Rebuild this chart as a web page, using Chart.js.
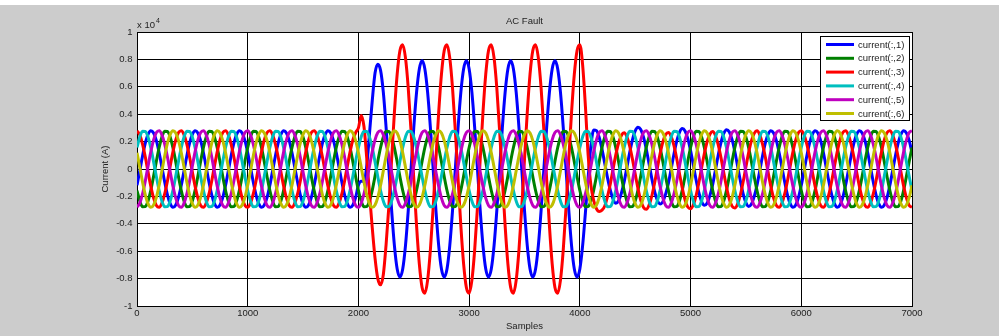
<!DOCTYPE html>
<html lang="en">
<head>
    <meta charset="UTF-8">
    <script src="https://cdnjs.cloudflare.com/ajax/libs/Chart.js/4.4.1/chart.umd.min.js"></script>
    <style>
        body {
            margin: 0;
            background: #cccccc;
        }

        canvas {
            display: block;
        }
    </style>
    <title>AC Fault</title>
</head>
<body>
    <canvas id="faultChart" width="999" height="336"></canvas>

    <script>
        const TITLE = 'AC Fault';
        const SERIES_NAMES = ['current(:,1)', 'current(:,2)', 'current(:,3)', 'current(:,4)', 'current(:,5)', 'current(:,6)'];
        const SERIES_COLORS = ['#0000ff', '#008000', '#ff0000', '#00bfbf', '#bf00bf', '#bfbf00'];

        // sample index, one row per 400-sample cycle
        const SAMPLES = [
            0, 25, 50, 75, 100, 125, 150, 175, 200, 225, 250, 275, 300, 325, 350, 375,
            400, 425, 450, 475, 500, 525, 550, 575, 600, 625, 650, 675, 700, 725, 750, 775,
            800, 825, 850, 875, 900, 925, 950, 975, 1000, 1025, 1050, 1075, 1100, 1125, 1150, 1175,
            1200, 1225, 1250, 1275, 1300, 1325, 1350, 1375, 1400, 1425, 1450, 1475, 1500, 1525, 1550, 1575,
            1600, 1625, 1650, 1675, 1700, 1725, 1750, 1775, 1800, 1825, 1850, 1875, 1900, 1925, 1950, 1975,
            2000, 2025, 2050, 2075, 2100, 2125, 2150, 2175, 2200, 2225, 2250, 2275, 2300, 2325, 2350, 2375,
            2400, 2425, 2450, 2475, 2500, 2525, 2550, 2575, 2600, 2625, 2650, 2675, 2700, 2725, 2750, 2775,
            2800, 2825, 2850, 2875, 2900, 2925, 2950, 2975, 3000, 3025, 3050, 3075, 3100, 3125, 3150, 3175,
            3200, 3225, 3250, 3275, 3300, 3325, 3350, 3375, 3400, 3425, 3450, 3475, 3500, 3525, 3550, 3575,
            3600, 3625, 3650, 3675, 3700, 3725, 3750, 3775, 3800, 3825, 3850, 3875, 3900, 3925, 3950, 3975,
            4000, 4025, 4050, 4075, 4100, 4125, 4150, 4175, 4200, 4225, 4250, 4275, 4300, 4325, 4350, 4375,
            4400, 4425, 4450, 4475, 4500, 4525, 4550, 4575, 4600, 4625, 4650, 4675, 4700, 4725, 4750, 4775,
            4800, 4825, 4850, 4875, 4900, 4925, 4950, 4975, 5000, 5025, 5050, 5075, 5100, 5125, 5150, 5175,
            5200, 5225, 5250, 5275, 5300, 5325, 5350, 5375, 5400, 5425, 5450, 5475, 5500, 5525, 5550, 5575,
            5600, 5625, 5650, 5675, 5700, 5725, 5750, 5775, 5800, 5825, 5850, 5875, 5900, 5925, 5950, 5975,
            6000, 6025, 6050, 6075, 6100, 6125, 6150, 6175, 6200, 6225, 6250, 6275, 6300, 6325, 6350, 6375,
            6400, 6425, 6450, 6475, 6500, 6525, 6550, 6575, 6600, 6625, 6650, 6675, 6700, 6725, 6750, 6775,
            6800, 6825, 6850, 6875, 6900, 6925, 6950, 6975, 7000
        ];

        const CURRENT_1 = [
            -1190, -130, 950, 1880, 2530, 2800, 2630, 2070, 1190, 130, -950, -1880, -2530, -2800, -2630, -2070,
            -1190, -130, 950, 1880, 2530, 2800, 2630, 2070, 1190, 130, -950, -1880, -2530, -2800, -2630, -2070,
            -1190, -130, 950, 1880, 2530, 2800, 2630, 2070, 1190, 130, -950, -1880, -2530, -2800, -2630, -2070,
            -1190, -130, 950, 1880, 2530, 2800, 2630, 2070, 1190, 130, -950, -1880, -2530, -2800, -2630, -2070,
            -1190, -130, 950, 1880, 2530, 2800, 2630, 2070, 1190, 130, -950, -1880, -2530, -2800, -2630, -2070,
            -1190, -900, -900, 200, 2600, 5000, 7000, 7650, 7200, 5600, 3020, 0, -3020, -5590, -7300, -7900,
            -7300, -5590, -3020, 0, 3020, 5590, 7300, 7900, 7300, 5590, 3020, 0, -3020, -5590, -7300, -7900,
            -7300, -5590, -3020, 0, 3020, 5590, 7300, 7900, 7300, 5590, 3020, 0, -3020, -5590, -7300, -7900,
            -7300, -5590, -3020, 0, 3020, 5590, 7300, 7900, 7300, 5590, 3020, 0, -3020, -5590, -7300, -7900,
            -7300, -5590, -3020, 0, 3020, 5590, 7300, 7900, 7300, 5590, 3020, 0, -3020, -5590, -7300, -7900,
            -7300, -5600, -3200, -600, 1700, 2850, 2800, 2300, 1450, 400, -650, -1550, -2200, -2500, -2320, -1770,
            -940, 120, 1200, 2130, 2780, 3050, 2880, 2320, 1440, 380, -700, -1630, -2280, -2550, -2380, -1820,
            -1040, 20, 1100, 2030, 2680, 2950, 2780, 2220, 1340, 280, -800, -1730, -2380, -2650, -2480, -1920,
            -1120, -60, 1020, 1950, 2600, 2870, 2700, 2140, 1260, 200, -880, -1810, -2460, -2730, -2560, -2000,
            -1190, -130, 950, 1880, 2530, 2800, 2630, 2070, 1190, 130, -950, -1880, -2530, -2800, -2630, -2070,
            -1190, -130, 950, 1880, 2530, 2800, 2630, 2070, 1190, 130, -950, -1880, -2530, -2800, -2630, -2070,
            -1190, -130, 950, 1880, 2530, 2800, 2630, 2070, 1190, 130, -950, -1880, -2530, -2800, -2630, -2070,
            -1190, -130, 950, 1880, 2530, 2800, 2630, 2070, 1190
        ];

        const CURRENT_2 = [
            -1570, -2340, -2750, -2740, -2320, -1540, -520, 570, 1570, 2340, 2750, 2740, 2320, 1540, 520, -570,
            -1570, -2340, -2750, -2740, -2320, -1540, -520, 570, 1570, 2340, 2750, 2740, 2320, 1540, 520, -570,
            -1570, -2340, -2750, -2740, -2320, -1540, -520, 570, 1570, 2340, 2750, 2740, 2320, 1540, 520, -570,
            -1570, -2340, -2750, -2740, -2320, -1540, -520, 570, 1570, 2340, 2750, 2740, 2320, 1540, 520, -570,
            -1570, -2340, -2750, -2740, -2320, -1540, -520, 570, 1570, 2340, 2750, 2740, 2320, 1540, 520, -570,
            -1570, -2340, -2750, -2740, -2320, -1540, -520, 570, 1570, 2340, 2750, 2740, 2320, 1540, 520, -570,
            -1570, -2340, -2750, -2740, -2320, -1540, -520, 570, 1570, 2340, 2750, 2740, 2320, 1540, 520, -570,
            -1570, -2340, -2750, -2740, -2320, -1540, -520, 570, 1570, 2340, 2750, 2740, 2320, 1540, 520, -570,
            -1570, -2340, -2750, -2740, -2320, -1540, -520, 570, 1570, 2340, 2750, 2740, 2320, 1540, 520, -570,
            -1570, -2340, -2750, -2740, -2320, -1540, -520, 570, 1570, 2340, 2750, 2740, 2320, 1540, 520, -570,
            -1570, -2340, -2750, -2740, -2320, -1540, -520, 570, 1570, 2340, 2750, 2740, 2320, 1540, 520, -570,
            -1570, -2340, -2750, -2740, -2320, -1540, -520, 570, 1570, 2340, 2750, 2740, 2320, 1540, 520, -570,
            -1570, -2340, -2750, -2740, -2320, -1540, -520, 570, 1570, 2340, 2750, 2740, 2320, 1540, 520, -570,
            -1570, -2340, -2750, -2740, -2320, -1540, -520, 570, 1570, 2340, 2750, 2740, 2320, 1540, 520, -570,
            -1570, -2340, -2750, -2740, -2320, -1540, -520, 570, 1570, 2340, 2750, 2740, 2320, 1540, 520, -570,
            -1570, -2340, -2750, -2740, -2320, -1540, -520, 570, 1570, 2340, 2750, 2740, 2320, 1540, 520, -570,
            -1570, -2340, -2750, -2740, -2320, -1540, -520, 570, 1570, 2340, 2750, 2740, 2320, 1540, 520, -570,
            -1570, -2340, -2750, -2740, -2320, -1540, -520, 570, 1570
        ];

        const CURRENT_3 = [
            2790, 2490, 1820, 870, -220, -1270, -2130, -2660, -2790, -2490, -1820, -870, 220, 1270, 2130, 2660,
            2790, 2490, 1820, 870, -220, -1270, -2130, -2660, -2790, -2490, -1820, -870, 220, 1270, 2130, 2660,
            2790, 2490, 1820, 870, -220, -1270, -2130, -2660, -2790, -2490, -1820, -870, 220, 1270, 2130, 2660,
            2790, 2490, 1820, 870, -220, -1270, -2130, -2660, -2790, -2490, -1820, -870, 220, 1270, 2130, 2660,
            2790, 2490, 1820, 870, -220, -1270, -2130, -2660, -2790, -2490, -1820, -870, 220, 1270, 2130, 2660,
            3000, 3900, 3100, 800, -1800, -4300, -6500, -8000, -8450, -7700, -5500, -2700, 710, 4130, 6920, 8650,
            9070, 8110, 5910, 2810, -710, -4130, -6920, -8650, -9070, -8110, -5910, -2810, 710, 4130, 6920, 8650,
            9070, 8110, 5910, 2810, -710, -4130, -6920, -8650, -9070, -8110, -5910, -2810, 710, 4130, 6920, 8650,
            9070, 8110, 5910, 2810, -710, -4130, -6920, -8650, -9070, -8110, -5910, -2810, 710, 4130, 6920, 8650,
            9070, 8110, 5910, 2810, -710, -4130, -6920, -8650, -9070, -8110, -5910, -2810, 710, 4130, 6920, 8650,
            9070, 7600, 4600, 1000, -1200, -2300, -2900, -3100, -3000, -2700, -2000, -1100, 0, 1050, 1900, 2450,
            2640, 2340, 1670, 720, -370, -1420, -2280, -2810, -2940, -2640, -1970, -1020, 70, 1120, 1980, 2510,
            2670, 2370, 1700, 750, -340, -1390, -2250, -2780, -2910, -2610, -1940, -990, 100, 1150, 2010, 2540,
            2730, 2430, 1760, 810, -280, -1330, -2190, -2720, -2850, -2550, -1880, -930, 160, 1210, 2070, 2600,
            2790, 2490, 1820, 870, -220, -1270, -2130, -2660, -2790, -2490, -1820, -870, 220, 1270, 2130, 2660,
            2790, 2490, 1820, 870, -220, -1270, -2130, -2660, -2790, -2490, -1820, -870, 220, 1270, 2130, 2660,
            2790, 2490, 1820, 870, -220, -1270, -2130, -2660, -2790, -2490, -1820, -870, 220, 1270, 2130, 2660,
            2790, 2490, 1820, 870, -220, -1270, -2130, -2660, -2790
        ];

        const CURRENT_4 = [
            1570, 2340, 2750, 2740, 2320, 1540, 520, -570, -1570, -2340, -2750, -2740, -2320, -1540, -520, 570,
            1570, 2340, 2750, 2740, 2320, 1540, 520, -570, -1570, -2340, -2750, -2740, -2320, -1540, -520, 570,
            1570, 2340, 2750, 2740, 2320, 1540, 520, -570, -1570, -2340, -2750, -2740, -2320, -1540, -520, 570,
            1570, 2340, 2750, 2740, 2320, 1540, 520, -570, -1570, -2340, -2750, -2740, -2320, -1540, -520, 570,
            1570, 2340, 2750, 2740, 2320, 1540, 520, -570, -1570, -2340, -2750, -2740, -2320, -1540, -520, 570,
            1570, 2340, 2750, 2740, 2320, 1540, 520, -570, -1570, -2340, -2750, -2740, -2320, -1540, -520, 570,
            1570, 2340, 2750, 2740, 2320, 1540, 520, -570, -1570, -2340, -2750, -2740, -2320, -1540, -520, 570,
            1570, 2340, 2750, 2740, 2320, 1540, 520, -570, -1570, -2340, -2750, -2740, -2320, -1540, -520, 570,
            1570, 2340, 2750, 2740, 2320, 1540, 520, -570, -1570, -2340, -2750, -2740, -2320, -1540, -520, 570,
            1570, 2340, 2750, 2740, 2320, 1540, 520, -570, -1570, -2340, -2750, -2740, -2320, -1540, -520, 570,
            1570, 2340, 2750, 2740, 2320, 1540, 520, -570, -1570, -2340, -2750, -2740, -2320, -1540, -520, 570,
            1570, 2340, 2750, 2740, 2320, 1540, 520, -570, -1570, -2340, -2750, -2740, -2320, -1540, -520, 570,
            1570, 2340, 2750, 2740, 2320, 1540, 520, -570, -1570, -2340, -2750, -2740, -2320, -1540, -520, 570,
            1570, 2340, 2750, 2740, 2320, 1540, 520, -570, -1570, -2340, -2750, -2740, -2320, -1540, -520, 570,
            1570, 2340, 2750, 2740, 2320, 1540, 520, -570, -1570, -2340, -2750, -2740, -2320, -1540, -520, 570,
            1570, 2340, 2750, 2740, 2320, 1540, 520, -570, -1570, -2340, -2750, -2740, -2320, -1540, -520, 570,
            1570, 2340, 2750, 2740, 2320, 1540, 520, -570, -1570, -2340, -2750, -2740, -2320, -1540, -520, 570,
            1570, 2340, 2750, 2740, 2320, 1540, 520, -570, -1570
        ];

        const CURRENT_5 = [
            -2790, -2490, -1820, -870, 220, 1270, 2130, 2660, 2790, 2490, 1820, 870, -220, -1270, -2130, -2660,
            -2790, -2490, -1820, -870, 220, 1270, 2130, 2660, 2790, 2490, 1820, 870, -220, -1270, -2130, -2660,
            -2790, -2490, -1820, -870, 220, 1270, 2130, 2660, 2790, 2490, 1820, 870, -220, -1270, -2130, -2660,
            -2790, -2490, -1820, -870, 220, 1270, 2130, 2660, 2790, 2490, 1820, 870, -220, -1270, -2130, -2660,
            -2790, -2490, -1820, -870, 220, 1270, 2130, 2660, 2790, 2490, 1820, 870, -220, -1270, -2130, -2660,
            -2790, -2490, -1820, -870, 220, 1270, 2130, 2660, 2790, 2490, 1820, 870, -220, -1270, -2130, -2660,
            -2790, -2490, -1820, -870, 220, 1270, 2130, 2660, 2790, 2490, 1820, 870, -220, -1270, -2130, -2660,
            -2790, -2490, -1820, -870, 220, 1270, 2130, 2660, 2790, 2490, 1820, 870, -220, -1270, -2130, -2660,
            -2790, -2490, -1820, -870, 220, 1270, 2130, 2660, 2790, 2490, 1820, 870, -220, -1270, -2130, -2660,
            -2790, -2490, -1820, -870, 220, 1270, 2130, 2660, 2790, 2490, 1820, 870, -220, -1270, -2130, -2660,
            -2790, -2490, -1820, -870, 220, 1270, 2130, 2660, 2790, 2490, 1820, 870, -220, -1270, -2130, -2660,
            -2790, -2490, -1820, -870, 220, 1270, 2130, 2660, 2790, 2490, 1820, 870, -220, -1270, -2130, -2660,
            -2790, -2490, -1820, -870, 220, 1270, 2130, 2660, 2790, 2490, 1820, 870, -220, -1270, -2130, -2660,
            -2790, -2490, -1820, -870, 220, 1270, 2130, 2660, 2790, 2490, 1820, 870, -220, -1270, -2130, -2660,
            -2790, -2490, -1820, -870, 220, 1270, 2130, 2660, 2790, 2490, 1820, 870, -220, -1270, -2130, -2660,
            -2790, -2490, -1820, -870, 220, 1270, 2130, 2660, 2790, 2490, 1820, 870, -220, -1270, -2130, -2660,
            -2790, -2490, -1820, -870, 220, 1270, 2130, 2660, 2790, 2490, 1820, 870, -220, -1270, -2130, -2660,
            -2790, -2490, -1820, -870, 220, 1270, 2130, 2660, 2790
        ];

        const CURRENT_6 = [
            1190, 130, -950, -1880, -2530, -2800, -2630, -2070, -1190, -130, 950, 1880, 2530, 2800, 2630, 2070,
            1190, 130, -950, -1880, -2530, -2800, -2630, -2070, -1190, -130, 950, 1880, 2530, 2800, 2630, 2070,
            1190, 130, -950, -1880, -2530, -2800, -2630, -2070, -1190, -130, 950, 1880, 2530, 2800, 2630, 2070,
            1190, 130, -950, -1880, -2530, -2800, -2630, -2070, -1190, -130, 950, 1880, 2530, 2800, 2630, 2070,
            1190, 130, -950, -1880, -2530, -2800, -2630, -2070, -1190, -130, 950, 1880, 2530, 2800, 2630, 2070,
            1190, 130, -950, -1880, -2530, -2800, -2630, -2070, -1190, -130, 950, 1880, 2530, 2800, 2630, 2070,
            1190, 130, -950, -1880, -2530, -2800, -2630, -2070, -1190, -130, 950, 1880, 2530, 2800, 2630, 2070,
            1190, 130, -950, -1880, -2530, -2800, -2630, -2070, -1190, -130, 950, 1880, 2530, 2800, 2630, 2070,
            1190, 130, -950, -1880, -2530, -2800, -2630, -2070, -1190, -130, 950, 1880, 2530, 2800, 2630, 2070,
            1190, 130, -950, -1880, -2530, -2800, -2630, -2070, -1190, -130, 950, 1880, 2530, 2800, 2630, 2070,
            1190, 130, -950, -1880, -2530, -2800, -2630, -2070, -1190, -130, 950, 1880, 2530, 2800, 2630, 2070,
            1190, 130, -950, -1880, -2530, -2800, -2630, -2070, -1190, -130, 950, 1880, 2530, 2800, 2630, 2070,
            1190, 130, -950, -1880, -2530, -2800, -2630, -2070, -1190, -130, 950, 1880, 2530, 2800, 2630, 2070,
            1190, 130, -950, -1880, -2530, -2800, -2630, -2070, -1190, -130, 950, 1880, 2530, 2800, 2630, 2070,
            1190, 130, -950, -1880, -2530, -2800, -2630, -2070, -1190, -130, 950, 1880, 2530, 2800, 2630, 2070,
            1190, 130, -950, -1880, -2530, -2800, -2630, -2070, -1190, -130, 950, 1880, 2530, 2800, 2630, 2070,
            1190, 130, -950, -1880, -2530, -2800, -2630, -2070, -1190, -130, 950, 1880, 2530, 2800, 2630, 2070,
            1190, 130, -950, -1880, -2530, -2800, -2630, -2070, -1190
        ];

        const SERIES = [CURRENT_1, CURRENT_2, CURRENT_3, CURRENT_4, CURRENT_5, CURRENT_6];

        const FONT = '"Liberation Sans", Arial, sans-serif';
        const TEXT_COLOR = '#222';

        // grey figure, white axes, plus the title, exponent and legend box
        const matlabFrame = {
            id: 'matlabFrame',
            beforeDraw(chart) {
                const { ctx, chartArea: a } = chart;
                ctx.save();
                ctx.fillStyle = '#cccccc';
                ctx.fillRect(0, 0, chart.width, chart.height);
                ctx.fillStyle = '#ffffff';
                ctx.fillRect(0, 0, chart.width, 5);
                ctx.fillRect(a.left, a.top, a.right - a.left, a.bottom - a.top);
                ctx.restore();
            },
            afterDraw(chart) {
                const { ctx, chartArea: a } = chart;
                ctx.save();
                ctx.fillStyle = TEXT_COLOR;
                ctx.textBaseline = 'alphabetic';

                ctx.font = '9.5px ' + FONT;
                ctx.textAlign = 'center';
                ctx.fillText(TITLE, (a.left + a.right) / 2, 24);

                ctx.textAlign = 'left';
                ctx.fillText('x 10', a.left, 28);
                ctx.font = '7px ' + FONT;
                ctx.fillText('4', a.left + 19, 23);

                // legend
                const boxLeft = 820.5, boxTop = 36.5, boxW = 89, boxH = 84;
                ctx.fillStyle = '#ffffff';
                ctx.fillRect(boxLeft, boxTop, boxW, boxH);
                ctx.strokeStyle = '#000000';
                ctx.lineWidth = 1;
                ctx.strokeRect(boxLeft, boxTop, boxW, boxH);

                ctx.font = '9.5px ' + FONT;
                ctx.textBaseline = 'middle';
                SERIES_NAMES.forEach((name, i) => {
                    const y = 44.5 + i * 13.8;
                    ctx.strokeStyle = SERIES_COLORS[i];
                    ctx.lineWidth = 3;
                    ctx.beginPath();
                    ctx.moveTo(826, y);
                    ctx.lineTo(854, y);
                    ctx.stroke();
                    ctx.fillStyle = TEXT_COLOR;
                    ctx.fillText(name, 858, y + 0.5);
                });
                ctx.restore();
            }
        };

        const datasets = SERIES.map((values, i) => ({
            label: SERIES_NAMES[i],
            data: values,
            borderColor: SERIES_COLORS[i],
            borderWidth: 3,
            pointRadius: 0,
            cubicInterpolationMode: 'monotone',
            fill: false,
            order: SERIES.length - i
        }));

        new Chart(document.getElementById('faultChart'), {
            type: 'line',
            data: {
                labels: SAMPLES,
                datasets: datasets
            },
            options: {
                responsive: false,
                animation: false,
                devicePixelRatio: 1,
                layout: {
                    padding: { left: 0, right: 87, top: 32, bottom: 0 }
                },
                plugins: {
                    legend: { display: false },
                    tooltip: { enabled: false }
                },
                scales: {
                    x: {
                        type: 'linear',
                        min: 0,
                        max: 7000,
                        afterFit: (scale) => { scale.height = 30; },
                        ticks: {
                            stepSize: 1000,
                            padding: 2,
                            maxRotation: 0,
                            color: TEXT_COLOR,
                            font: { family: FONT, size: 9.5 },
                            callback: (v) => String(v)
                        },
                        grid: { color: '#000000', lineWidth: 1, drawTicks: false },
                        border: { display: true, color: '#000000', width: 1 },
                        title: {
                            display: true,
                            text: 'Samples',
                            color: TEXT_COLOR,
                            font: { family: FONT, size: 9.5 },
                            padding: { top: 0, bottom: 4 }
                        }
                    },
                    y: {
                        type: 'linear',
                        min: -10000,
                        max: 10000,
                        afterFit: (scale) => { scale.width = 137; },
                        ticks: {
                            stepSize: 2000,
                            padding: 4.5,
                            color: TEXT_COLOR,
                            font: { family: FONT, size: 9.5 },
                            callback: (v) => String(Math.round(v / 1000) / 10)
                        },
                        grid: { color: '#000000', lineWidth: 1, drawTicks: false },
                        border: { display: true, color: '#000000', width: 1 },
                        title: {
                            display: true,
                            text: 'Current (A)',
                            color: TEXT_COLOR,
                            font: { family: FONT, size: 9.5 },
                            padding: { top: 100, bottom: 0 }
                        }
                    }
                }
            },
            plugins: [matlabFrame]
        });
    </script>
</body>
</html>
